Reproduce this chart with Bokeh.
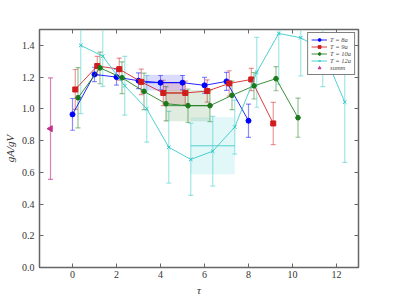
from bokeh.plotting import figure
from bokeh.models import (ColumnDataSource, Whisker, TeeHead, Legend, LegendItem,
                          LinearAxis, Range1d, FixedTicker, CustomJSTickFormatter)
from bokeh.embed import file_html
from bokeh.resources import INLINE

# ---- data ----
labels = ["T = 8a", "T = 9a", "T = 10a", "T = 12a"]
colors = ["#0000ff", "#d01c1c", "#1a7a1a", "#30c8c8"]
markers = ["circle", "square", "hex", "x"]
offsets = [0.0, 0.125, 0.25, 0.375]

tau8 = [0, 1, 2, 3, 4, 5, 6, 7, 8]
y8 = [0.965, 1.217, 1.20, 1.177, 1.165, 1.165, 1.148, 1.173, 0.925]
e8 = [0.10, 0.045, 0.05, 0.05, 0.045, 0.045, 0.05, 0.057, 0.105]

tau9 = [0, 1, 2, 3, 4, 5, 6, 7, 8, 9]
y9 = [1.122, 1.27, 1.25, 1.17, 1.10, 1.10, 1.112, 1.16, 1.185, 0.908]
e9 = [0.126, 0.06, 0.07, 0.08, 0.08, 0.075, 0.07, 0.08, 0.07, 0.133]

tau10 = [0, 1, 2, 3, 4, 5, 6, 7, 8, 9, 10]
y10 = [1.07, 1.258, 1.196, 1.11, 1.032, 1.02, 1.02, 1.085, 1.145, 1.19, 0.944]
e10 = [0.19, 0.10, 0.10, 0.115, 0.108, 0.105, 0.10, 0.09, 0.083, 0.076, 0.123]

tau12 = [0, 1, 2, 3, 4, 5, 6, 7, 8, 9, 10, 11, 12]
y12 = [1.40, 1.332, 1.145, 1.0, 0.758, 0.681, 0.733, 0.885, 1.23, 1.475, 1.448, 1.37, 1.042]
e12 = [0.43, 0.19, 0.185, 0.21, 0.226, 0.227, 0.22, 0.17, 0.22, 0.32, 0.24, 0.23, 0.38]

summ_x = [-1.0]
summ_y = [0.875]
summ_e = [0.32]
summ_label = "summ"
summ_color = "#c0308a"

# fit bands: x-start, x-end, value, error
band_x0 = [3.3, 4.125, 4.25, 5.375]
band_x1 = [5.1, 5.125, 6.25, 7.375]
band_val = [1.165, 1.10, 1.02, 0.767]
band_err = [0.05, 0.07, 0.098, 0.18]

x_ticks = [0, 2, 4, 6, 8, 10, 12]
y_ticks = [0.0, 0.2, 0.4, 0.6, 0.8, 1.0, 1.2, 1.4]

series = [(tau8, y8, e8), (tau9, y9, e9), (tau10, y10, e10), (tau12, y12, e12)]

# ---- figure ----
p = figure(frame_width=319, frame_height=238, output_backend="svg", toolbar_location=None,
           x_range=Range1d(-1.5, 13), y_range=Range1d(0, 1.5),
           min_border_left=32, min_border_right=24, min_border_top=29, min_border_bottom=20)
p.grid.visible = False
p.outline_line_color = "#666666"
p.outline_line_width = 1.5
p.background_fill_color = "white"
p.border_fill_color = "white"

FONT = "Liberation Serif"

# bands
for i in range(4):
    src = ColumnDataSource(dict(l=[band_x0[i]], r=[band_x1[i]],
                                t=[band_val[i] + band_err[i]], b=[band_val[i] - band_err[i]],
                                v=[band_val[i]]))
    p.quad(left="l", right="r", top="t", bottom="b", source=src,
           fill_color=colors[i], fill_alpha=0.14, line_color=None)
    p.segment(x0="l", x1="r", y0="v", y1="v", source=src, line_color=colors[i],
              line_alpha=0.8, line_width=1)

items = []
for i, (tau, y, e) in enumerate(series):
    x = [t + offsets[i] for t in tau]
    src = ColumnDataSource(dict(x=x, y=y, up=[a + b for a, b in zip(y, e)],
                                lo=[a - b for a, b in zip(y, e)]))
    w = Whisker(source=src, base="x", upper="up", lower="lo",
                line_color=colors[i], line_alpha=0.45, line_width=1.2,
                upper_head=TeeHead(size=5, line_color=colors[i], line_alpha=0.45, line_width=1.2),
                lower_head=TeeHead(size=5, line_color=colors[i], line_alpha=0.45, line_width=1.2))
    p.add_layout(w)
    ln = p.line("x", "y", source=src, line_color=colors[i], line_width=1, line_alpha=0.85)
    if markers[i] == "x":
        sc = p.scatter("x", "y", source=src, marker="x", size=5, line_color=colors[i], line_width=1)
    else:
        sc = p.scatter("x", "y", source=src, marker=markers[i], size=5 if markers[i] != "hex" else 5,
                       fill_color=colors[i], line_color=colors[i])
    items.append(LegendItem(label=labels[i], renderers=[ln, sc]))

ssrc = ColumnDataSource(dict(x=summ_x, y=summ_y, up=[a + b for a, b in zip(summ_y, summ_e)],
                             lo=[a - b for a, b in zip(summ_y, summ_e)]))
p.add_layout(Whisker(source=ssrc, base="x", upper="up", lower="lo",
                     line_color=summ_color, line_alpha=0.6, line_width=1.2,
                     upper_head=TeeHead(size=5, line_color=summ_color, line_alpha=0.6, line_width=1.2),
                     lower_head=TeeHead(size=5, line_color=summ_color, line_alpha=0.6, line_width=1.2)))
ss = p.scatter("x", "y", source=ssrc, marker="triangle", angle=1.5708, size=6,
               fill_color=summ_color, line_color=summ_color)
items.append(LegendItem(label=summ_label, renderers=[ss]))

legend = Legend(items=items, location="top_right", margin=3, padding=3, spacing=0,
                label_text_font=FONT, label_text_font_style="italic",
                label_text_font_size="6.5px", label_height=6, glyph_height=7, glyph_width=16,
                label_standoff=3, border_line_color="black", border_line_width=1,
                background_fill_alpha=1.0)
p.add_layout(legend)

# axes
for ax in [p.xaxis[0], p.yaxis[0]]:
    ax.axis_line_color = None
    ax.major_tick_in = 4
    ax.major_tick_out = 0
    ax.major_tick_line_color = "#666666"
    ax.minor_tick_line_color = None
    ax.major_label_text_font = FONT
    ax.major_label_text_font_size = "10px"
    ax.major_label_text_color = "#333333"
    ax.axis_label_text_font = FONT
    ax.axis_label_text_font_style = "italic"
    ax.axis_label_text_font_size = "11px"
    ax.axis_label_text_color = "#333333"
p.xaxis[0].ticker = FixedTicker(ticks=x_ticks)
p.yaxis[0].ticker = FixedTicker(ticks=y_ticks)
p.yaxis[0].formatter = CustomJSTickFormatter(code="return tick.toFixed(1);")
p.xaxis[0].axis_label = "τ"
p.yaxis[0].axis_label = "gA/gV"
p.xaxis[0].major_label_standoff = 3
p.yaxis[0].major_label_standoff = 5
p.xaxis[0].axis_label_standoff = 3
p.yaxis[0].axis_label_standoff = 3

blank = CustomJSTickFormatter(code="return '';")
top_ax = LinearAxis(ticker=FixedTicker(ticks=x_ticks), axis_line_color=None,
                    major_tick_in=4, major_tick_out=0, major_tick_line_color="#666666",
                    minor_tick_line_color=None, formatter=blank, major_label_standoff=0)
right_ax = LinearAxis(ticker=FixedTicker(ticks=y_ticks), axis_line_color=None,
                      major_tick_in=4, major_tick_out=0, major_tick_line_color="#666666",
                      minor_tick_line_color=None, formatter=blank, major_label_standoff=0)
p.add_layout(top_ax, "above")
p.add_layout(right_ax, "right")

open("out.html", "w").write(file_html(p, INLINE))
